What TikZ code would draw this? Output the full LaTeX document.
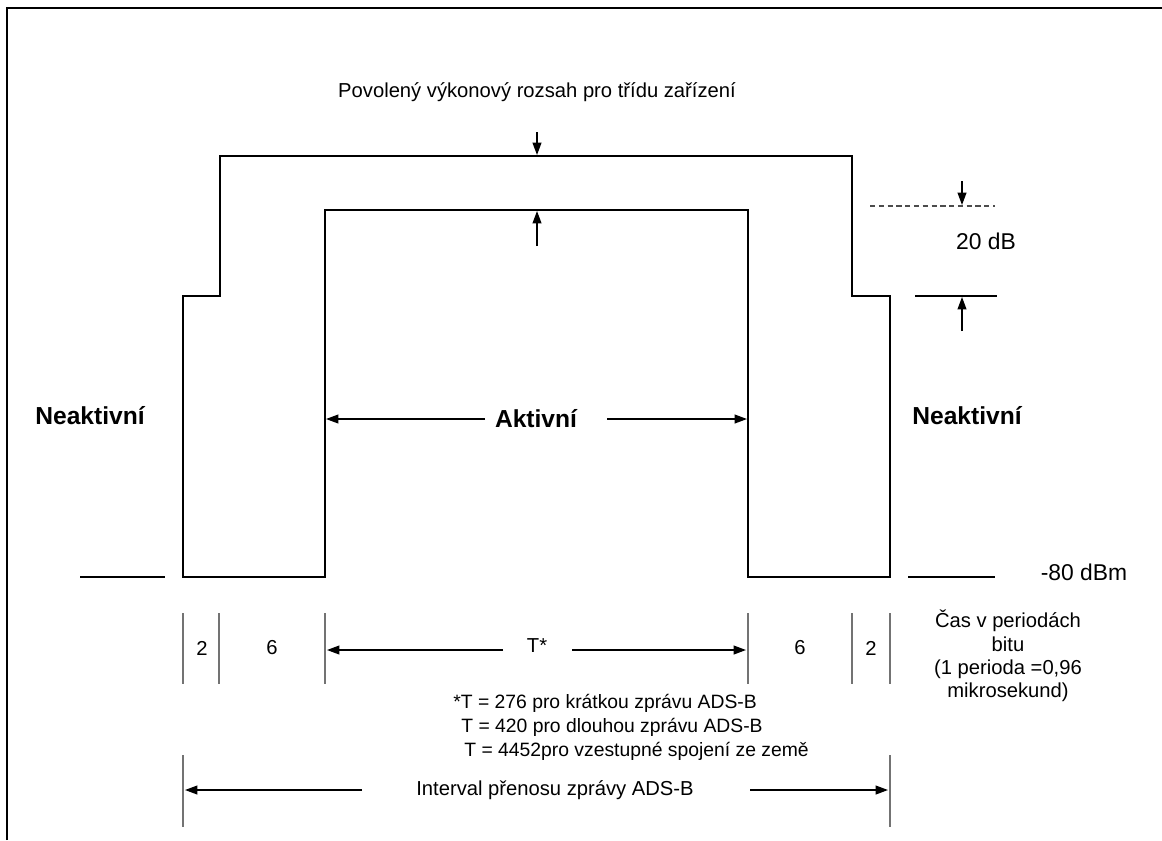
\documentclass[tikz,border=0pt]{standalone}
\usepackage{fontspec}
\setmainfont{Liberation Sans}
\usetikzlibrary{arrows.meta}
\begin{document}
\begin{tikzpicture}[x=0.02cm,y=-0.02cm,
  wave/.style={line width=0.9pt, line join=miter},
  dim/.style={line width=0.8pt},
  tick/.style={line width=0.9pt, draw=black!55},
  arr/.style={dim, -{Triangle[length=7pt,width=5pt]}},
  lbl/.style={font=\fontsize{11.5}{13}\selectfont, inner sep=0pt},
  note/.style={font=\fontsize{11}{13}\selectfont, inner sep=0pt},
  big/.style={font=\fontsize{14}{16}\selectfont\bfseries, inner sep=0pt},
  unit/.style={font=\fontsize{13}{15}\selectfont, inner sep=0pt}]
\useasboundingbox (0,0) rectangle (1162,840);
% frame (only top and left edges visible)
\draw[line width=1.3pt] (7,840) -- (7,8) -- (1162,8);

% power mask / pulse
\draw[wave] (183,577) -- (183,296) -- (220,296) -- (220,156) -- (852,156)
  -- (852,296) -- (890,296) -- (890,577) -- (748,577) -- (748,210)
  -- (325,210) -- (325,577) -- cycle;
\coordinate (bl1) at (80,577);  \coordinate (bl2) at (165,577);
\coordinate (br1) at (908,577); \coordinate (br2) at (995,577);
\draw[wave] (bl1) -- (bl2);
\draw[wave] (br1) -- (br2);

% title and arrows
\node[lbl] (title) at (537,92) {Povolený výkonový rozsah pro třídu zařízení};
\coordinate (ta1) at (537,132); \coordinate (ta2) at (537,155);
\draw[arr] (ta1) -- (ta2);
\coordinate (ua1) at (537,246); \coordinate (ua2) at (537,211);
\draw[arr] (ua1) -- (ua2);

% 20 dB
\coordinate (d1) at (870,206); \coordinate (d2) at (995,206);
\draw[line width=0.6pt, densely dashed, draw=black!70] (d1) -- (d2);
\coordinate (da1) at (962,181); \coordinate (da2) at (962,205);
\draw[arr] (da1) -- (da2);
\node[unit] (db) at (986,241) {20 dB};
\coordinate (s1) at (915,296); \coordinate (s2) at (997,296);
\draw[wave] (s1) -- (s2);
\coordinate (sa1) at (962,331); \coordinate (sa2) at (962,297);
\draw[arr] (sa1) -- (sa2);

% labels
\node[big] (nl) at (90,416) {Neaktivní};
\node[big] (nr) at (967,416) {Neaktivní};
\node[big] (act) at (536,419) {Aktivní};
\coordinate (al1) at (485,419); \coordinate (al2) at (326,419);
\coordinate (ar1) at (607,419); \coordinate (ar2) at (747,419);
\draw[arr] (al1) -- (al2);
\draw[arr] (ar1) -- (ar2);
\node[unit] (dbm) at (1084,572) {-80 dBm};

% bit period ticks
\foreach \x/\n in {183/a,219/b,325/c,748/d,852/e,890/f}{
  \coordinate (t\n1) at (\x,613); \coordinate (t\n2) at (\x,684);
  \draw[tick] (t\n1) -- (t\n2);
}
\node[lbl] (n2l) at (202,648) {2};
\node[lbl] (n6l) at (272,648) {6};
\node[lbl] (n6r) at (800,648) {6};
\node[lbl] (n2r) at (871,648) {2};
\node[lbl] (tstar) at (537,646) {T*};
\coordinate (tl1) at (503,650); \coordinate (tl2) at (327,650);
\coordinate (tr1) at (572,650); \coordinate (tr2) at (746,650);
\draw[arr] (tl1) -- (tl2);
\draw[arr] (tr1) -- (tr2);

% footnote
\node[note, anchor=west] (f1) at (453,703) {*T = 276 pro krátkou zprávu ADS-B};
\node[note, anchor=west] (f2) at (461,727) {T = 420 pro dlouhou zprávu ADS-B};
\node[note, anchor=west] (f3) at (464,751) {T = 4452pro vzestupné spojení ze země};

% time unit note
\node[lbl, align=center, font=\fontsize{11.5}{13.2}\selectfont] (cas) at (1008,656)
  {Čas v periodách\\bitu\\(1 perioda =0,96\\mikrosekund)};

% interval
\coordinate (ia1) at (183,755); \coordinate (ia2) at (183,827);
\coordinate (ib1) at (890,755); \coordinate (ib2) at (890,827);
\draw[tick] (ia1) -- (ia2);
\draw[tick] (ib1) -- (ib2);
\node[lbl] (intv) at (555,790) {Interval přenosu zprávy ADS-B};
\coordinate (il1) at (362,790); \coordinate (il2) at (185,790);
\coordinate (ir1) at (750,790); \coordinate (ir2) at (888,790);
\draw[arr] (il1) -- (il2);
\draw[arr] (ir1) -- (ir2);
\end{tikzpicture}
\end{document}
